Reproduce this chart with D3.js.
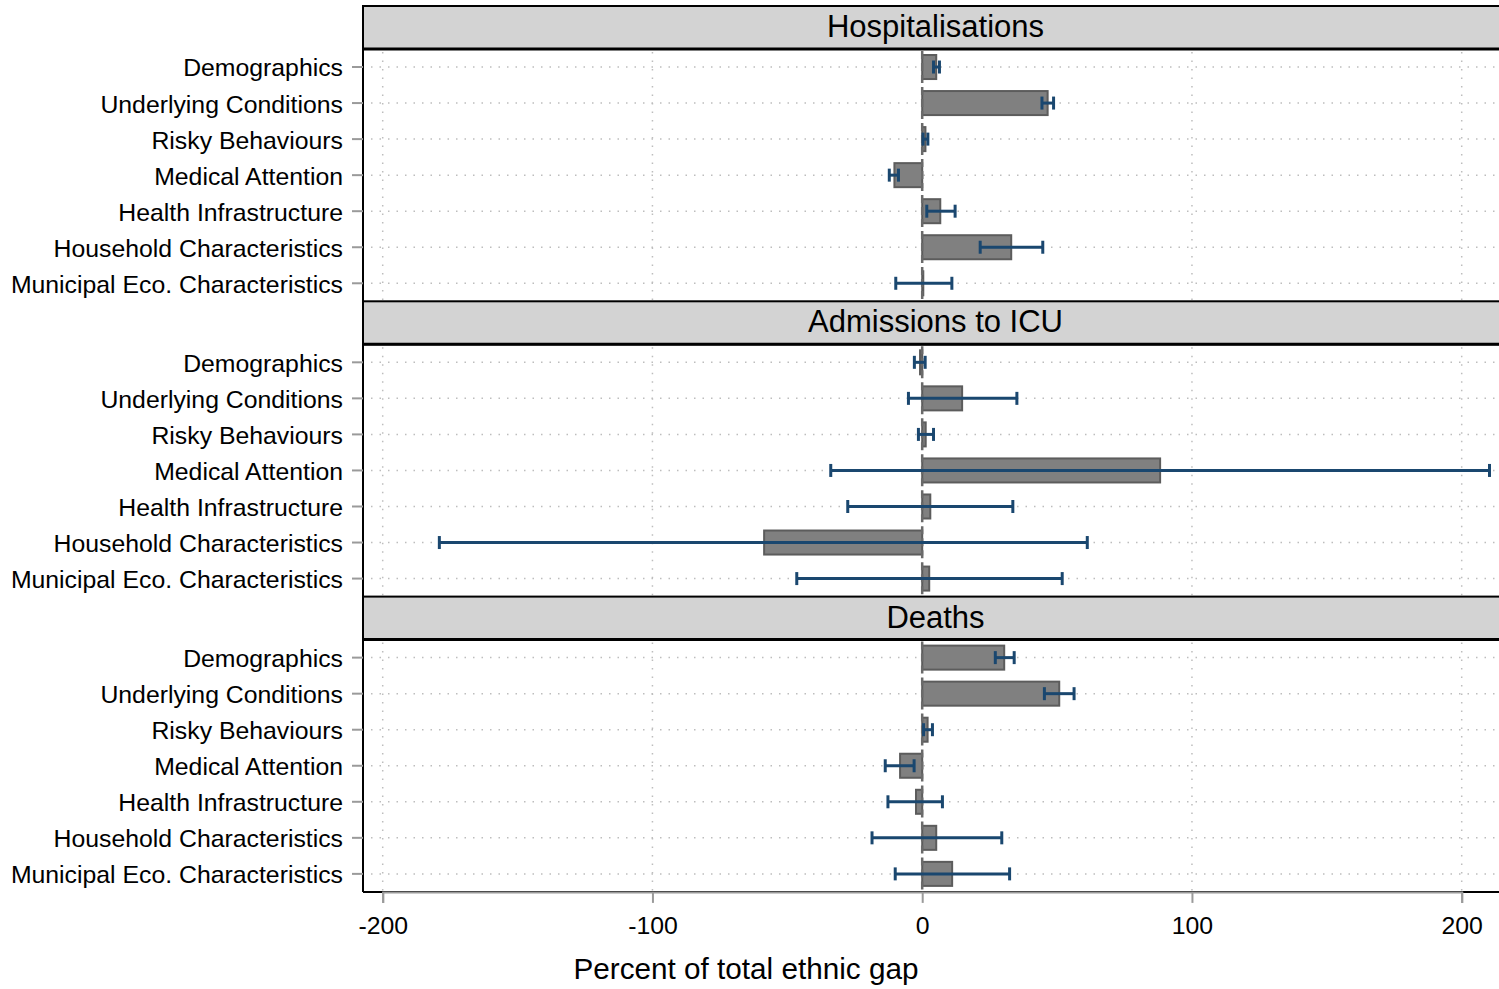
<!DOCTYPE html>
<html><head><meta charset="utf-8">
<script src="https://cdn.jsdelivr.net/npm/d3@7"></script>
<style>body{margin:0;background:#fff}svg{display:block}text{font-family:"Liberation Sans",Arial,sans-serif}</style>
</head><body><svg id="c" width="1499" height="989"></svg>
<script>
const categories = ["Demographics","Underlying Conditions","Risky Behaviours","Medical Attention","Health Infrastructure","Household Characteristics","Municipal Eco. Characteristics"];
const panels = ["Hospitalisations","Admissions to ICU","Deaths"];
const xTicks = [-200,-100,0,100,200];
const hospEst = [5.2, 46.5, 1.2, -10.3, 6.7, 33.0, 0.4];
const hospLo  = [4.2, 44.4, 0.3, -12.2, 1.7, 21.5, -9.8];
const hospHi  = [6.4, 48.7, 2.1, -8.8, 12.2, 44.7, 11.0];
const icuEst = [-0.8, 14.8, 1.3, 88.2, 3.0, -58.6, 2.6];
const icuLo  = [-2.9, -5.1, -1.4, -33.9, -27.6, -179.0, -46.5];
const icuHi  = [1.1, 35.1, 4.2, 210.3, 33.6, 61.2, 51.9];
const deathEst = [30.4, 50.8, 2.0, -8.2, -2.3, 5.2, 11.1];
const deathLo  = [27.1, 45.3, 0.5, -13.7, -12.7, -18.6, -10.0];
const deathHi  = [34.1, 56.3, 3.8, -3.0, 7.5, 29.5, 32.4];

const est = [hospEst, icuEst, deathEst], lo = [hospLo, icuLo, deathLo], hi = [hospHi, icuHi, deathHi];

const svg = d3.select("#c");
const left = 363, right = 1508;
const x = d3.scaleLinear().domain([-200,200]).range([382.7, 1461.7]);
const stripH = 43, plotH = 252.3, top0 = 6;
const navy = "#1a476f";
const font = '"Liberation Sans",Arial,sans-serif';

panels.forEach((p, pi) => {
  const st = top0 + pi*(stripH + plotH);
  const pt = st + stripH;
  const g = svg.append("g");
  g.append("rect").attr("x", left).attr("y", st).attr("width", right-left).attr("height", stripH)
    .attr("fill", "#d3d3d3").attr("stroke", "#000").attr("stroke-width", 2);
  g.append("text").attr("x", (left+right)/2).attr("y", st + stripH/2 + 9.5).attr("text-anchor","middle")
    .attr("font-size", 31).text(p);
  const y = d3.scaleBand().domain(categories).range([pt, pt+plotH]).paddingInner(1/3).paddingOuter(1/6);
  const yc = c => y(c) + y.bandwidth()/2;
  xTicks.filter(t => t !== 0).forEach(t => {
    g.append("line").attr("x1", x(t)).attr("x2", x(t)).attr("y1", pt+3).attr("y2", pt+plotH)
      .attr("stroke", "#bdbdbd").attr("stroke-width", 1.5).attr("stroke-dasharray", "1.5 7");
  });
  categories.forEach(c => {
    g.append("line").attr("x1", left+8).attr("x2", right).attr("y1", yc(c)).attr("y2", yc(c))
      .attr("stroke", "#bdbdbd").attr("stroke-width", 1.5).attr("stroke-dasharray", "1.5 7");
  });
  g.selectAll("rect.bar").data(categories).join("rect").attr("class","bar")
    .attr("x", (c,i) => x(Math.min(0, est[pi][i])))
    .attr("width", (c,i) => Math.abs(x(est[pi][i]) - x(0)))
    .attr("y", c => y(c)).attr("height", y.bandwidth())
    .attr("fill", "#808080").attr("stroke", "#5c5c5c").attr("stroke-width", 2);
  g.append("line").attr("x1", x(0)).attr("x2", x(0)).attr("y1", pt+2).attr("y2", pt+plotH)
    .attr("stroke", "#6a6a6a").attr("stroke-width", 2.5).attr("stroke-dasharray", "8 4");
  categories.forEach((c, i) => {
    const cy = yc(c);
    g.append("line").attr("x1", x(lo[pi][i])).attr("x2", x(hi[pi][i])).attr("y1", cy).attr("y2", cy)
      .attr("stroke", navy).attr("stroke-width", 3);
    [lo[pi][i], hi[pi][i]].forEach(v => {
      g.append("line").attr("x1", x(v)).attr("x2", x(v)).attr("y1", cy-6.5).attr("y2", cy+6.5)
        .attr("stroke", navy).attr("stroke-width", 3);
    });
  });
  g.append("line").attr("x1", left).attr("x2", left).attr("y1", pt).attr("y2", pt+plotH)
    .attr("stroke", "#000").attr("stroke-width", 2);
  const ya = d3.axisLeft(y).tickSize(11).tickPadding(9);
  const yg = g.append("g").attr("transform", `translate(${left},0)`).call(ya);
  yg.select(".domain").remove();
  yg.selectAll(".tick line").attr("stroke", "#9a9a9a").attr("stroke-width", 2);
  yg.selectAll(".tick text").attr("font-size", 24.8).attr("fill", "#000").attr("font-family", font).attr("dy", "0.38em");
  g.append("line").attr("x1", left).attr("x2", right).attr("y1", pt).attr("y2", pt)
    .attr("stroke", "#000").attr("stroke-width", 3);
});

const bottom = top0 + 3*(stripH+plotH);
svg.append("line").attr("x1", left).attr("x2", right).attr("y1", bottom).attr("y2", bottom)
  .attr("stroke", "#000").attr("stroke-width", 2);
const xa = d3.axisBottom(x).tickValues(xTicks).tickSize(11).tickPadding(14).tickFormat(d => d < 0 ? "-" + Math.abs(d) : d);
const xg = svg.append("g").attr("transform", `translate(0,${bottom})`).call(xa);
xg.select(".domain").attr("stroke", "#9a9a9a").attr("stroke-width", 2);
xg.selectAll(".tick line").attr("stroke", "#9a9a9a").attr("stroke-width", 2);
xg.selectAll(".tick text").attr("font-size", 24.8).attr("fill", "#000").attr("font-family", font);
svg.append("text").attr("x", 746).attr("y", 979).attr("text-anchor", "middle").attr("font-size", 29.7).text("Percent of total ethnic gap");
</script></body></html>
